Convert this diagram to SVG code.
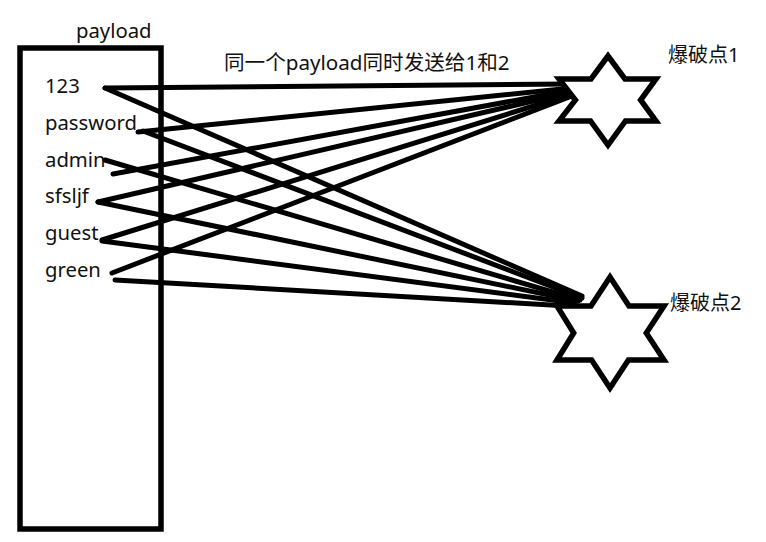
<svg xmlns="http://www.w3.org/2000/svg" width="766" height="542" viewBox="0 0 766 542">
<style>
.lbl{font-family:"Noto Sans","Noto Sans CJK SC",sans-serif;font-size:20.3px;fill:#111}
.cjk{font-family:"Noto Sans","Noto Sans CJK SC",sans-serif;font-size:20px;fill:#111}
.ttl{font-family:"Noto Sans","Noto Sans CJK SC",sans-serif;font-size:20.6px;fill:#111}
.box{fill:none;stroke:#000;stroke-width:5.5}
.star{fill:#fff;stroke:#000;stroke-width:5.5;stroke-linejoin:miter}
.wire{stroke:#000;stroke-width:5;stroke-linecap:round;fill:none}
</style>
<rect width="766" height="542" fill="#fff"/>
<g id="connectors">
<line class="wire" x1="105" y1="88" x2="570" y2="84"/>
<line class="wire" x1="138" y1="132" x2="572" y2="88"/>
<line class="wire" x1="113" y1="174" x2="572" y2="90"/>
<line class="wire" x1="98" y1="202" x2="572" y2="92"/>
<line class="wire" x1="102" y1="240" x2="572" y2="94"/>
<line class="wire" x1="112" y1="273" x2="572" y2="96"/>
<line class="wire" x1="105" y1="88" x2="582" y2="296"/>
<line class="wire" x1="143" y1="131" x2="582" y2="298"/>
<line class="wire" x1="105" y1="160" x2="580" y2="300"/>
<line class="wire" x1="98" y1="202" x2="578" y2="301"/>
<line class="wire" x1="102" y1="241" x2="575" y2="303"/>
<line class="wire" x1="115" y1="280" x2="568" y2="306"/>
</g>
<g id="payload">
<rect class="box" x="20" y="48" width="141" height="481"/>
<text class="lbl" x="76" y="38">payload</text>
<text class="lbl" x="45" y="93">123</text>
<text class="lbl" x="45" y="130">password</text>
<text class="lbl" x="45" y="167">admin</text>
<text class="lbl" x="45" y="203">sfsljf</text>
<text class="lbl" x="45" y="240">guest</text>
<text class="lbl" x="45" y="277">green</text>
</g>
<g id="title">
<text class="ttl" x="224" y="70">同一个payload同时发送给1和2</text>
</g>
<g id="target1">
<polygon class="star" points="608,56 625,79 656,79 640.6,100 656,121 625.5,121 608,145 590.5,121 559,121 575.4,100 559,79 591,79"/>
<text class="cjk" x="668" y="62">爆破点1</text>
</g>
<g id="target2">
<polygon class="star" points="610,277 629,306 664,306 646.3,333 664,360 628.4,360 610,388 591.6,360 557,360 573.7,333 557,306 591,306"/>
<text class="cjk" x="670" y="310">爆破点2</text>
</g>
</svg>
